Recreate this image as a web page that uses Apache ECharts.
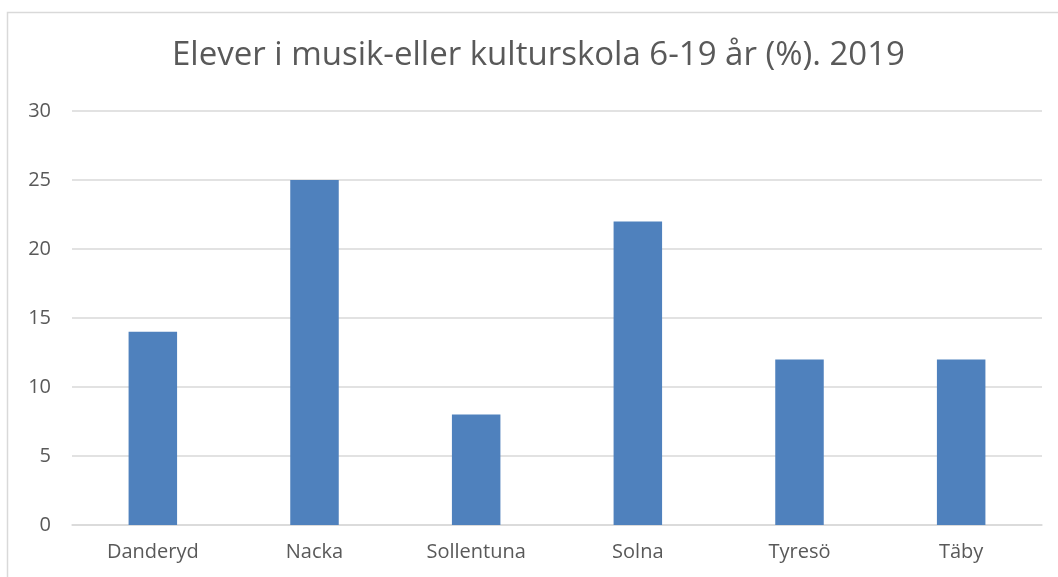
<!DOCTYPE html>
<html>
<head>
<meta charset="utf-8">
<script src="https://cdn.jsdelivr.net/npm/echarts@6/dist/echarts.min.js"></script>
<style>
html, body { margin: 0; padding: 0; background: #fff; }
#main { width: 1058px; height: 577px; }
</style>
</head>
<body>
<div id="main"></div>
<script>
var kommuner = ['Danderyd', 'Nacka', 'Sollentuna', 'Solna', 'Tyresö', 'Täby'];
var andel = [14, 25, 8, 22, 12, 12];
var yTicks = [0, 5, 10, 15, 20, 25, 30];

var myChart = echarts.init(document.getElementById('main'));
var option = {
    backgroundColor: '#fff',
    title: {
        text: 'Elever i musik-eller kulturskola 6-19 år (%). 2019',
        left: 167,
        top: 34,
        textStyle: {
            fontFamily: 'Open Sans',
            fontSize: 33,
            fontWeight: 'normal',
            color: '#595959'
        }
    },
    graphic: [{
        type: 'rect',
        shape: { x: 7.5, y: 12.5, width: 1100, height: 600 },
        style: { fill: 'none', stroke: '#d9d9d9', lineWidth: 1.5 },
        silent: true
    }],
    grid: { left: 72, right: 16, top: 111, bottom: 52 },
    xAxis: {
        type: 'category',
        data: kommuner,
        axisTick: { show: false },
        axisLine: { lineStyle: { color: '#d9d9d9', width: 1.5 } },
        axisLabel: {
            margin: 17,
            fontFamily: 'Open Sans',
            fontSize: 20,
            color: '#595959'
        }
    },
    yAxis: {
        type: 'value',
        min: yTicks[0],
        max: yTicks[yTicks.length - 1],
        interval: 5,
        axisLine: { show: false },
        axisTick: { show: false },
        splitLine: { lineStyle: { color: '#d9d9d9', width: 1.5 } },
        axisLabel: {
            margin: 21,
            fontFamily: 'Open Sans',
            fontSize: 20,
            color: '#595959'
        }
    },
    series: [{
        type: 'bar',
        data: andel,
        barWidth: '30%',
        itemStyle: { color: '#4F81BD' }
    }]
};
myChart.setOption(option);
</script>
</body>
</html>
